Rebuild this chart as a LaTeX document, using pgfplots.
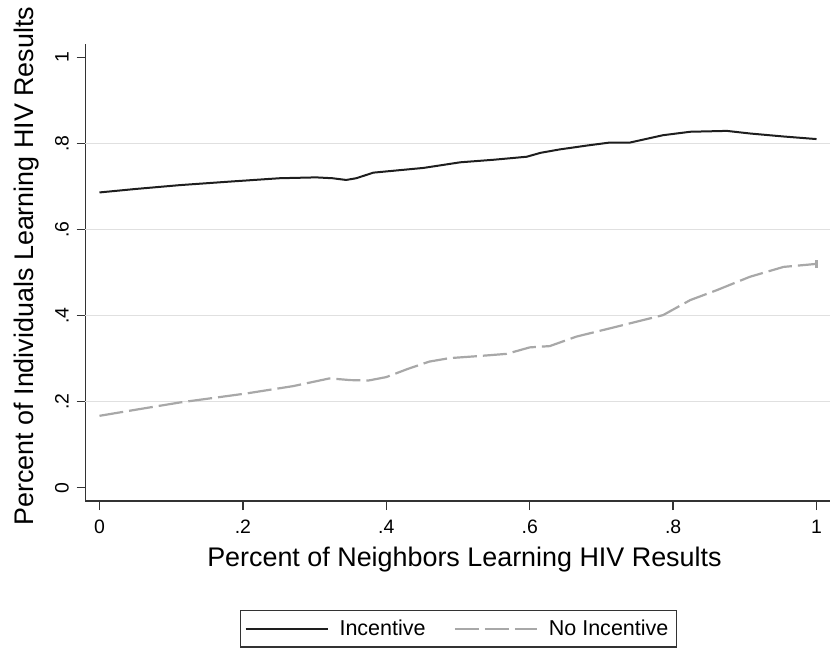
\documentclass[border=0pt]{standalone}
\usepackage{pgfplots}
\pgfplotsset{compat=1.18}
\usepackage{fontspec}
\setmainfont{Liberation Sans}
\definecolor{incl}{HTML}{1E1E1E}
\definecolor{noincl}{HTML}{A8A8A8}
\definecolor{gridc}{HTML}{E0E0E0}
\definecolor{axc}{HTML}{333333}
\begin{document}
\begin{tikzpicture}
\path[use as bounding box] (0,0) rectangle (415bp,325bp);
\clip (0,0) rectangle (415bp,325bp);
\begin{axis}[
  at={(42.75bp,74.5bp)}, anchor=south west,
  scale only axis, width=372.25bp, height=228.5bp,
  xmin=-0.0195, xmax=1.0188, ymin=-0.0309, ymax=1.0309,
  axis lines*=left,
  axis line style={axc, line width=0.75bp},
  xtick={0,0.2,0.4,0.6,0.8,1}, xticklabels={0,.2,.4,.6,.8,1},
  ytick={0,0.2,0.4,0.6,0.8,1}, yticklabels={0,.2,.4,.6,.8,1},
  tick align=outside, major tick length=4.5bp,
  tick style={axc, line width=0.75bp},
  extra y ticks={0.2,0.4,0.6,0.8}, extra y tick labels={},
  extra y tick style={grid=major, major tick length=0pt, major grid style={gridc, line width=0.6bp}},
  ticklabel style={font=\fontsize{9.75}{11}\selectfont},
  xticklabel style={anchor=base, yshift=-11.75bp},
  yticklabel style={xshift=-4bp, rotate=90, anchor=base},
  xlabel={Percent of Neighbors Learning HIV Results},
  xlabel style={at={(axis description cs:0.509,-0.1444)}, anchor=base, font=\fontsize{13.5}{15}\selectfont},
  ylabel={Percent of Individuals Learning HIV Results},
  ylabel style={at={(axis description cs:-0.0705,0.514)}, anchor=base, font=\fontsize{13.5}{15}\selectfont},
  legend columns=2,
  legend style={at={(axis description cs:0.501,-0.2798)}, anchor=center, draw=axc, line width=0.7bp,
    font=\fontsize{10.8}{12}\selectfont, inner xsep=2bp, inner ysep=2.5bp,
    /tikz/every even column/.append style={column sep=12bp}},
  legend image code/.code={\draw[#1] (0bp,0bp) -- (41bp,0bp); \path (44.5bp,0bp);},
]
\addplot[incl, line width=1bp] coordinates {
(0,0.686) (0.05,0.694) (0.112,0.703) (0.18,0.711) (0.251,0.719) (0.302,0.721)
(0.325,0.719) (0.344,0.715) (0.358,0.719) (0.382,0.732) (0.452,0.743) (0.503,0.756)
(0.55,0.762) (0.596,0.769) (0.615,0.778) (0.642,0.786) (0.68,0.795) (0.712,0.802)
(0.740,0.802) (0.786,0.819) (0.824,0.827) (0.875,0.829) (0.907,0.823) (0.954,0.816)
(1.0,0.810)
};
\addlegendentry{Incentive}
\addplot[noincl, line width=1.1bp, dash pattern=on 12bp off 3bp] coordinates {
(0,0.167) (0.05,0.181) (0.112,0.198) (0.205,0.219) (0.27,0.236) (0.321,0.254)
(0.35,0.250) (0.375,0.249) (0.40,0.257) (0.43,0.276) (0.46,0.293) (0.488,0.301)
(0.53,0.306) (0.568,0.311) (0.60,0.326) (0.628,0.329) (0.665,0.351) (0.721,0.374)
(0.786,0.401) (0.824,0.436) (0.861,0.459) (0.907,0.490) (0.954,0.513) (1.0,0.520)
};
\addlegendentry{No Incentive}
\addplot[noincl, line width=1.1bp, forget plot] coordinates {(1.0,0.510) (1.0,0.529)};
\end{axis}
\end{tikzpicture}
\end{document}
